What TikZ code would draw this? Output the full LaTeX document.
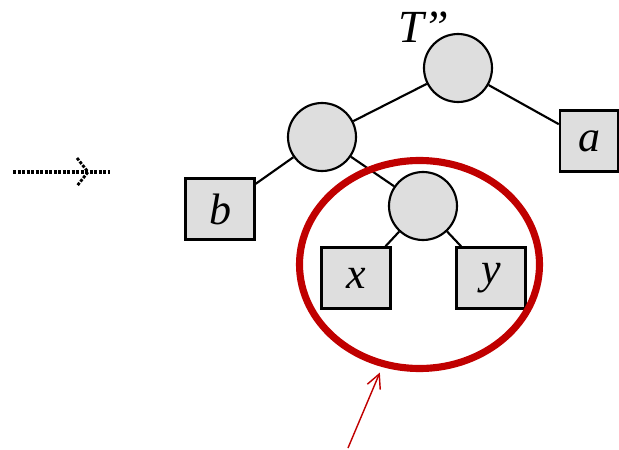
\documentclass[tikz,border=0pt]{standalone}
\usepackage{fontspec}
\setmainfont{Liberation Serif}
\usepackage{tikz}
\usetikzlibrary{arrows.meta,shapes.geometric}
\definecolor{ringred}{RGB}{192,0,0}
\tikzset{
	inner/.style={circle, draw, line width=0.75mm, fill=black!13, minimum size=68pt, inner sep=0pt},
	leaf/.style={rectangle, draw, line width=0.85mm, fill=black!13, minimum width=69pt, minimum height=61pt, inner sep=0pt, font=\fontsize{44}{50}\selectfont\itshape},
	edge/.style={line width=0.75mm},
}

\begin{document}
\begin{tikzpicture}[x=1pt, y=-1pt]
			%%%%% START %%%%%
			
			\useasboundingbox (0, 0) rectangle (619, 450);
			
			\node[inner] (root) at (458, 68) {};
			\node[inner] (left) at (322, 137) {};
			\node[inner] (mid) at (423, 206) {};
			
			\node[leaf, minimum width=58pt] (leafa) at (589, 141) {a};
			\node[leaf] (leafb) at (220, 209) {b};
			\node[leaf] (leafx) at (356, 278) {x};
			\node[leaf] (leafy) at (491, 278) {y};
			
			\node[font=\fontsize{46}{50}\selectfont\itshape] (tname) at (424, 27) {T''};
			
			\draw[edge] (root) -- (left);
			\draw[edge] (root) -- (leafa);
			\draw[edge] (left) -- (leafb);
			\draw[edge] (left) -- (mid);
			\draw[edge] (mid) -- (leafx);
			\draw[edge] (mid) -- (leafy);
			
			\node[ellipse, draw=ringred, line width=2.5mm, minimum width=240pt, minimum height=208pt, inner sep=0pt] (ring) at (419.5, 264.5) {};
			
			\coordinate (pointer) at (348, 448);
			\draw[ringred, line width=0.5mm, shorten >=6pt, -{Straight Barb[length=14pt, width=14pt]}] (pointer) -- (ring.250.4);
			
			\coordinate (dstart) at (13, 172);
			\coordinate (dend) at (110, 172);
			\draw[line width=1.4mm, dash pattern=on 3pt off 1.5pt] (dstart) -- (dend);
			\draw[line width=1mm, dash pattern=on 3pt off 1.5pt] (77, 158) -- (88, 172) -- (77, 186);
			
			%%%%% END %%%%%
		\end{tikzpicture}
\end{document}
